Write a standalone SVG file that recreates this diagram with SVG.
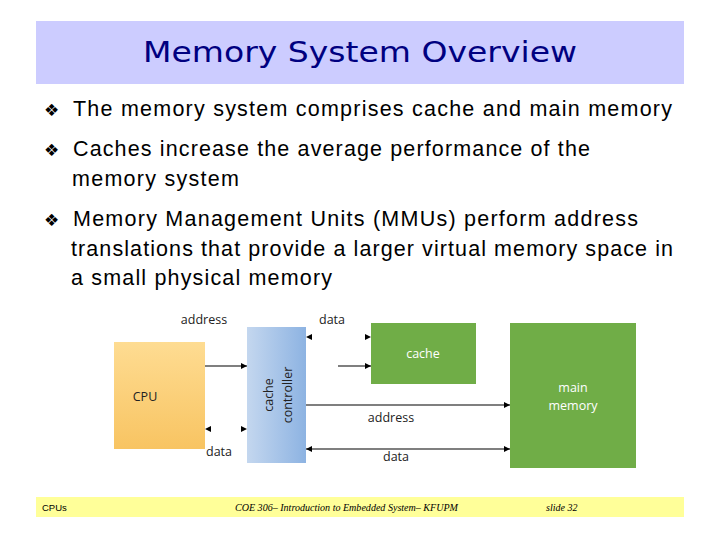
<svg xmlns="http://www.w3.org/2000/svg" width="720" height="540" viewBox="0 0 720 540">
<style>
.title{font-family:"DejaVu Sans",sans-serif;font-size:29px;fill:#000080;text-anchor:middle}
.body{font-family:"Liberation Sans",Arial,sans-serif;font-size:21.5px;fill:#000}
.bul{font-family:"DejaVu Sans",sans-serif;font-size:17px;fill:#000}
.lbl{font-family:"Open Sans","Liberation Sans",sans-serif;font-size:12.5px;fill:#222;text-anchor:middle}
.wlbl{font-family:"Open Sans","Liberation Sans",sans-serif;font-size:12.5px;fill:#fff;text-anchor:middle}
.foot{font-family:"Liberation Sans",sans-serif;font-size:9.5px;fill:#000}
.footi{font-family:"Liberation Serif",serif;font-size:10px;font-style:italic;fill:#000}
.ln{stroke:#000;stroke-width:1.2;fill:none}
.hid{stroke:none;fill:none}
</style>
<defs>
<marker id="ah" viewBox="0 0 6 6" refX="6" refY="3" markerWidth="6" markerHeight="6" markerUnits="userSpaceOnUse" orient="auto-start-reverse">
<path d="M0,0 L6,3 L0,6 z" fill="#000"/>
</marker>
<linearGradient id="gCpu" x1="0" y1="0" x2="0" y2="1">
<stop offset="0" stop-color="#fedc92"/>
<stop offset="1" stop-color="#f8c462"/>
</linearGradient>
<linearGradient id="gCtl" x1="0" y1="0" x2="1" y2="0">
<stop offset="0" stop-color="#c4d7ef"/>
<stop offset="1" stop-color="#8db3e2"/>
</linearGradient>
</defs>
<rect width="720" height="540" fill="#fff"/>
<rect x="36" y="21" width="648" height="63" fill="#ccccff"/>
<text class="title" x="360" y="62" textLength="434" lengthAdjust="spacingAndGlyphs">Memory System Overview</text>

<text class="bul" x="44" y="116">❖</text>
<text class="body" x="73" y="116" textLength="599" lengthAdjust="spacing">The memory system comprises cache and main memory</text>
<text class="bul" x="44" y="156">❖</text>
<text class="body" x="73" y="156" textLength="517" lengthAdjust="spacing">Caches increase the average performance of the</text>
<text class="body" x="72" y="186" textLength="167" lengthAdjust="spacing">memory system</text>
<text class="bul" x="44" y="226">❖</text>
<text class="body" x="73" y="226" textLength="565" lengthAdjust="spacing">Memory Management Units (MMUs) perform address</text>
<text class="body" x="71" y="256" textLength="602" lengthAdjust="spacing">translations that provide a larger virtual memory space in</text>
<text class="body" x="71" y="285" textLength="261" lengthAdjust="spacing">a small physical memory</text>

<g id="cpu">
<rect x="114" y="342" width="91" height="107" fill="url(#gCpu)"/>
<text class="lbl" x="145" y="401">CPU</text>
</g>
<g id="controller">
<rect x="247" y="327" width="59" height="136" fill="url(#gCtl)"/>
<text class="lbl" transform="translate(273,395) rotate(-90)" x="0" y="0">cache</text>
<text class="lbl" transform="translate(292,395) rotate(-90)" x="0" y="0">controller</text>
</g>
<g id="cache">
<rect x="371" y="323" width="105" height="61" fill="#70ad47"/>
<text class="wlbl" x="423" y="358">cache</text>
</g>
<g id="mainmem">
<rect x="510" y="323" width="126" height="145" fill="#70ad47"/>
<text class="wlbl" x="573" y="392">main</text>
<text class="wlbl" x="573" y="410">memory</text>
</g>

<g id="connectors">
<line class="ln" x1="205" y1="366" x2="247" y2="366" marker-end="url(#ah)"/>
<line class="hid" x1="205" y1="429" x2="247" y2="429" marker-start="url(#ah)" marker-end="url(#ah)"/>
<line class="hid" x1="306" y1="337" x2="371" y2="337" marker-start="url(#ah)" marker-end="url(#ah)"/>
<line class="ln" x1="338" y1="366" x2="371" y2="366" marker-end="url(#ah)"/>
<line class="ln" x1="306" y1="405" x2="510" y2="405" marker-end="url(#ah)"/>
<line class="ln" x1="306" y1="449" x2="510" y2="449" marker-start="url(#ah)" marker-end="url(#ah)"/>
<text class="lbl" x="204" y="324">address</text>
<text class="lbl" x="332" y="324">data</text>
<text class="lbl" x="219" y="456">data</text>
<text class="lbl" x="391" y="422">address</text>
<text class="lbl" x="396" y="461">data</text>
</g>

<rect x="36" y="497" width="648" height="20" fill="#ffff99"/>
<text class="foot" x="42" y="511">CPUs</text>
<text class="footi" x="235" y="511" textLength="223" lengthAdjust="spacingAndGlyphs">COE 306– Introduction to Embedded System– KFUPM</text>
<text class="footi" x="546" y="511">slide 32</text>
</svg>
